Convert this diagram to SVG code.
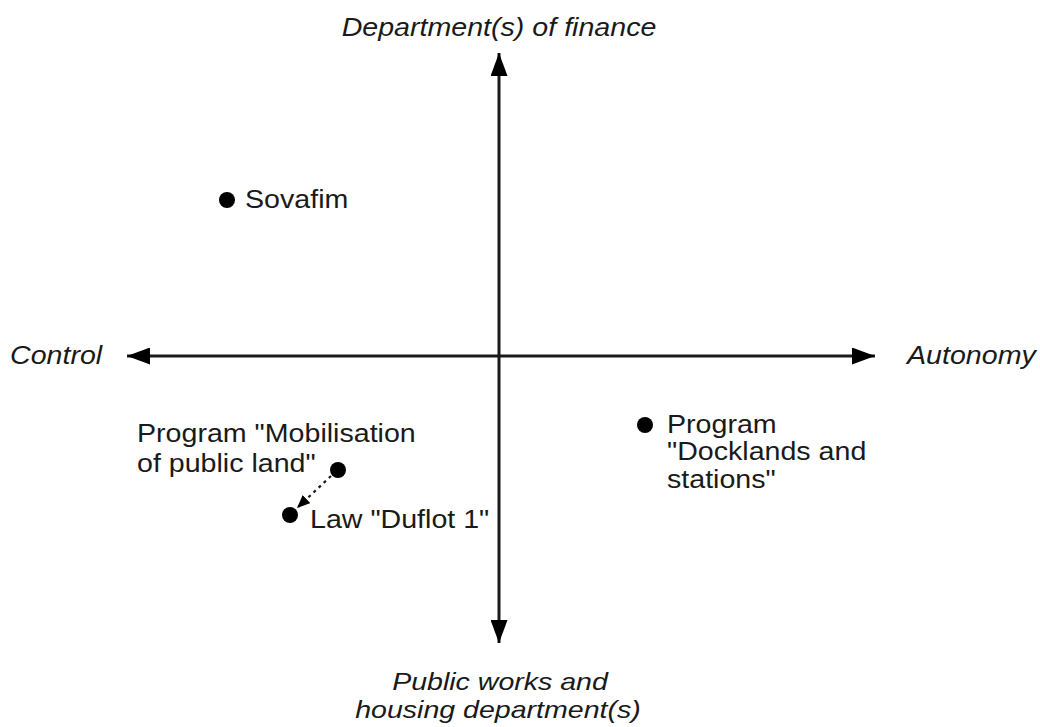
<svg xmlns="http://www.w3.org/2000/svg" width="1040" height="727" viewBox="0 0 1040 727">
<style>
text{font-family:"Liberation Sans",Arial,sans-serif;font-size:26px;fill:#1a1a1a}
.it{font-style:italic}
.sm{font-size:24px}
.axis{stroke:#1a1a1a;stroke-width:3;fill:none}
.dot{fill:#000}
.dash{stroke:#1a1a1a;stroke-width:2.2;stroke-dasharray:3 4;fill:none}
</style>
<defs>
<marker id="ah" viewBox="0 0 23 17" refX="23" refY="8.5" markerWidth="23" markerHeight="17" markerUnits="userSpaceOnUse" orient="auto">
<path d="M0,0 L23,8.5 L0,17 Z" fill="#000"/>
</marker>
<marker id="ahs" viewBox="0 0 13 11" refX="13" refY="5.5" markerWidth="13" markerHeight="11" markerUnits="userSpaceOnUse" orient="auto">
<path d="M0,0 L13,5.5 L0,11 Z" fill="#000"/>
</marker>
</defs>
<rect width="1040" height="727" fill="#fff"/>
<g id="connectors">
<line class="axis" x1="499" y1="356" x2="499" y2="53" marker-end="url(#ah)"/>
<line class="axis" x1="499" y1="356" x2="499" y2="643" marker-end="url(#ah)"/>
<line class="axis" x1="499" y1="356" x2="127" y2="356" marker-end="url(#ah)"/>
<line class="axis" x1="499" y1="356" x2="875" y2="356" marker-end="url(#ah)"/>
<line class="dash" x1="331" y1="476" x2="297" y2="508" marker-end="url(#ahs)"/>
</g>
<g id="axis-labels">
<text class="it" text-anchor="middle" transform="translate(499 36) scale(1.1 1)">Department(s) of finance</text>
<text class="it" transform="translate(10 364) scale(1.1 1)">Control</text>
<text class="it" transform="translate(907 364) scale(1.1 1)">Autonomy</text>
<text class="it sm" text-anchor="middle" transform="translate(500 690) scale(1.19 1)">Public works and</text>
<text class="it sm" text-anchor="middle" transform="translate(498 718) scale(1.19 1)">housing department(s)</text>
</g>
<g id="sovafim">
<circle class="dot" cx="227" cy="200" r="8"/>
<text transform="translate(245 208) scale(1.1 1)">Sovafim</text>
</g>
<g id="mobilisation">
<circle class="dot" cx="338" cy="470" r="8"/>
<text transform="translate(137 442) scale(1.1 1)">Program "Mobilisation</text>
<text transform="translate(137 472) scale(1.1 1)">of public land"</text>
</g>
<g id="duflot">
<circle class="dot" cx="290" cy="515" r="8"/>
<text transform="translate(310 528) scale(1.1 1)">Law "Duflot 1"</text>
</g>
<g id="docklands">
<circle class="dot" cx="645" cy="425" r="8"/>
<text transform="translate(667 433) scale(1.1 1)">Program</text>
<text transform="translate(667 460) scale(1.1 1)">"Docklands and</text>
<text transform="translate(667 488) scale(1.1 1)">stations"</text>
</g>
</svg>
